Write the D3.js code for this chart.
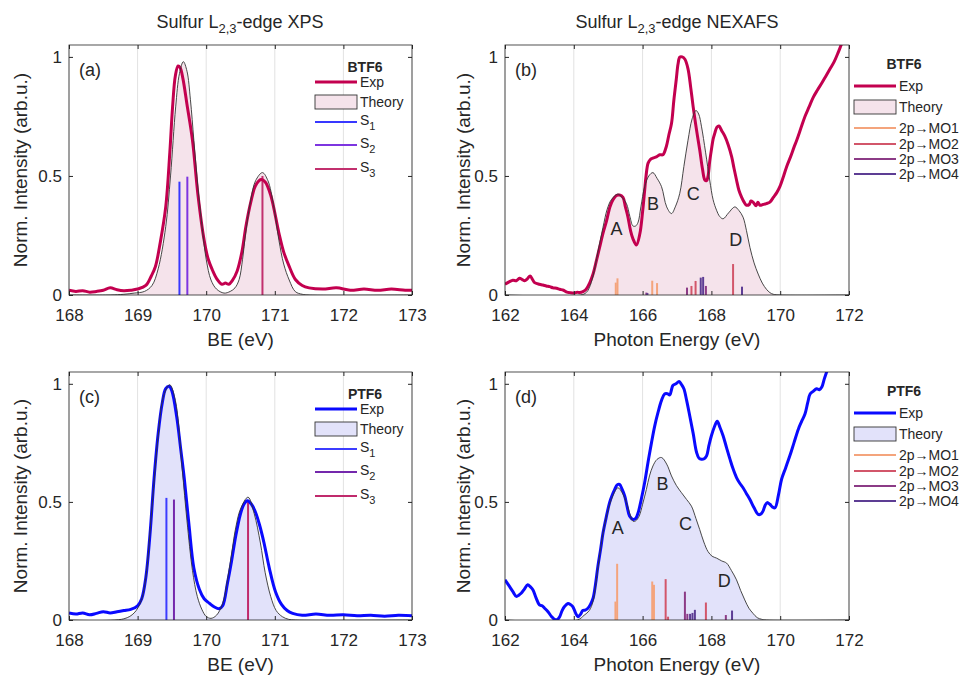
<!DOCTYPE html>
<html>
<head>
<meta charset="utf-8">
<script src="https://cdn.jsdelivr.net/npm/d3@7"></script>
<style>
  body { margin: 0; background: #fff; }
  svg { font-family: 'Liberation Sans', Arial, sans-serif; }
  text { fill: #262626; }
</style>
</head>
<body>
<svg id="container" width="968" height="675"></svg>
<script>
// ---- tick labels ----
const beTicks = [168, 169, 170, 171, 172, 173]
const peTicks = [162, 164, 166, 168, 170, 172]
const yTicks = [0, 0.5, 1]

// ---- (a) BTF6 XPS : [BE, intensity] ----
const btfXpsExp = [[168.0,0.02],[168.1,0.015],[168.2,0.018],[168.3,0.012],[168.4,0.015],[168.5,0.02],[168.6,0.03],[168.7,0.022],[168.8,0.018],[168.9,0.02],[169.0,0.025],[169.12,0.04],[169.2,0.08],[169.26,0.12],[169.33,0.22],[169.41,0.37],[169.47,0.6],[169.51,0.79],[169.55,0.92],[169.59,0.962],[169.62,0.955],[169.66,0.91],[169.72,0.8],[169.8,0.65],[169.88,0.42],[169.97,0.23],[170.03,0.15],[170.09,0.105],[170.15,0.07],[170.23,0.045],[170.28,0.05],[170.33,0.045],[170.38,0.06],[170.45,0.1],[170.52,0.18],[170.58,0.29],[170.65,0.39],[170.72,0.46],[170.8,0.485],[170.86,0.475],[170.94,0.42],[171.06,0.26],[171.13,0.18],[171.21,0.12],[171.3,0.065],[171.4,0.04],[171.5,0.03],[171.7,0.025],[171.9,0.03],[172.1,0.02],[172.3,0.025],[172.5,0.02],[172.7,0.025],[172.9,0.02],[173.0,0.02]]
const btfXpsTheory = [[168.0,0],[168.6,0],[168.8,0.003],[168.95,0.008],[169.1,0.015],[169.21,0.04],[169.3,0.11],[169.41,0.287],[169.48,0.5],[169.555,0.79],[169.61,0.93],[169.667,0.98],[169.72,0.94],[169.77,0.82],[169.82,0.65],[169.88,0.45],[169.94,0.287],[170.0,0.15],[170.07,0.063],[170.15,0.025],[170.26,0.008],[170.35,0.015],[170.42,0.03],[170.48,0.065],[170.53,0.15],[170.575,0.26],[170.65,0.4],[170.72,0.48],[170.82,0.514],[170.9,0.48],[170.98,0.38],[171.06,0.23],[171.13,0.13],[171.21,0.063],[171.3,0.014],[171.4,0.003],[171.5,0],[173.0,0]]
const btfS1 = [[169.61, 0.476]]
const btfS2 = [[169.725, 0.497]]
const btfS3 = [[170.82, 0.5]]

// ---- (c) PTF6 XPS ----
const ptfXpsExp = [[168.0,0.03],[168.1,0.025],[168.2,0.03],[168.3,0.022],[168.4,0.028],[168.5,0.035],[168.6,0.03],[168.7,0.035],[168.8,0.04],[168.9,0.045],[169.0,0.06],[169.06,0.09],[169.12,0.18],[169.18,0.36],[169.24,0.6],[169.3,0.79],[169.36,0.92],[169.41,0.98],[169.46,0.99],[169.5,0.97],[169.57,0.86],[169.63,0.72],[169.68,0.6],[169.75,0.4],[169.82,0.22],[169.9,0.13],[169.97,0.09],[170.05,0.07],[170.12,0.055],[170.19,0.048],[170.24,0.06],[170.31,0.156],[170.37,0.25],[170.43,0.355],[170.5,0.45],[170.55,0.49],[170.6,0.505],[170.66,0.49],[170.72,0.455],[170.78,0.4],[170.84,0.33],[170.92,0.22],[171.01,0.12],[171.1,0.065],[171.18,0.04],[171.26,0.028],[171.4,0.02],[171.6,0.025],[171.8,0.02],[172.0,0.022],[172.2,0.018],[172.4,0.02],[172.6,0.016],[172.8,0.02],[173.0,0.018]]
const ptfXpsTheory = [[168.0,0],[168.8,0.005],[168.95,0.03],[169.05,0.08],[169.12,0.18],[169.21,0.48],[169.3,0.78],[169.38,0.95],[169.468,0.996],[169.55,0.93],[169.65,0.64],[169.72,0.42],[169.8,0.21],[169.87,0.1],[169.94,0.043],[170.0,0.015],[170.07,0.007],[170.15,0.02],[170.24,0.07],[170.31,0.17],[170.38,0.3],[170.43,0.39],[170.5,0.47],[170.61,0.52],[170.7,0.45],[170.79,0.326],[170.86,0.2],[170.94,0.1],[171.02,0.04],[171.11,0.014],[171.2,0.003],[171.3,0],[173.0,0]]
const ptfS1 = [[169.42, 0.517]]
const ptfS2 = [[169.53, 0.51]]
const ptfS3 = [[170.61, 0.5]]

// ---- (b) BTF6 NEXAFS : [photon energy, intensity] ----
const btfNexExp = [[162.0,0.045],[162.12,0.055],[162.23,0.062],[162.33,0.06],[162.42,0.07],[162.5,0.065],[162.57,0.06],[162.65,0.068],[162.73,0.08],[162.8,0.065],[162.86,0.052],[163.0,0.045],[163.1,0.042],[163.2,0.038],[163.3,0.035],[163.4,0.03],[163.5,0.028],[163.59,0.024],[163.7,0.02],[163.8,0.012],[163.88,0.01],[164.0,0.008],[164.1,0.012],[164.17,0.01],[164.28,0.015],[164.36,0.024],[164.46,0.05],[164.56,0.088],[164.65,0.14],[164.75,0.2],[164.85,0.26],[164.95,0.31],[165.05,0.37],[165.14,0.4],[165.24,0.418],[165.33,0.42],[165.43,0.41],[165.5,0.37],[165.57,0.33],[165.65,0.27],[165.72,0.236],[165.82,0.21],[165.92,0.257],[166.0,0.35],[166.06,0.44],[166.1,0.5],[166.16,0.554],[166.23,0.57],[166.3,0.575],[166.4,0.58],[166.5,0.589],[166.59,0.589],[166.69,0.624],[166.76,0.67],[166.84,0.72],[166.91,0.82],[166.98,0.907],[167.03,0.97],[167.08,0.999],[167.15,1.0],[167.23,0.99],[167.32,0.95],[167.4,0.87],[167.47,0.79],[167.56,0.7],[167.66,0.61],[167.74,0.53],[167.81,0.483],[167.86,0.48],[167.9,0.497],[167.95,0.56],[168.0,0.61],[168.05,0.655],[168.1,0.68],[168.16,0.705],[168.22,0.71],[168.3,0.69],[168.39,0.667],[168.49,0.63],[168.59,0.58],[168.66,0.53],[168.73,0.483],[168.8,0.44],[168.88,0.41],[168.95,0.39],[169.02,0.377],[169.1,0.38],[169.15,0.395],[169.21,0.39],[169.3,0.375],[169.35,0.39],[169.41,0.377],[169.5,0.38],[169.6,0.384],[169.7,0.39],[169.8,0.41],[169.9,0.43],[169.99,0.455],[170.1,0.5],[170.19,0.54],[170.3,0.58],[170.4,0.62],[170.48,0.65],[170.6,0.7],[170.72,0.75],[170.84,0.79],[170.96,0.83],[171.08,0.86],[171.21,0.89],[171.33,0.92],[171.45,0.95],[171.57,0.98],[171.69,1.02],[171.8,1.06],[171.9,1.09]]
const btfNexTheory = [[162.0,0],[164.2,0],[164.36,0.01],[164.45,0.03],[164.56,0.08],[164.7,0.18],[164.85,0.285],[164.97,0.36],[165.09,0.4],[165.28,0.424],[165.4,0.41],[165.53,0.384],[165.63,0.33],[165.72,0.29],[165.8,0.29],[165.87,0.306],[165.95,0.37],[166.06,0.455],[166.18,0.5],[166.3,0.514],[166.42,0.49],[166.55,0.455],[166.7,0.37],[166.84,0.342],[166.95,0.37],[167.08,0.427],[167.2,0.54],[167.32,0.65],[167.44,0.74],[167.55,0.775],[167.63,0.76],[167.71,0.709],[167.83,0.6],[167.95,0.483],[168.05,0.4],[168.15,0.356],[168.24,0.33],[168.34,0.32],[168.5,0.345],[168.68,0.37],[168.8,0.355],[168.92,0.327],[169.02,0.27],[169.12,0.2],[169.24,0.135],[169.36,0.088],[169.48,0.05],[169.6,0.024],[169.7,0.01],[169.8,0.003],[170.0,0],[172.0,0]]
const btfMO1 = [[165.22,0.052],[165.27,0.07],[166.28,0.06],[166.42,0.05]]
const btfMO2 = [[167.42,0.038],[167.54,0.059],[168.63,0.13]]
const btfMO3 = [[166.11,0.01],[167.29,0.031],[167.84,0.038]]
const btfMO4 = [[166.14,0.008],[167.69,0.073],[167.76,0.076],[168.89,0.035]]
const btfPeaks = [['A',165.24,0.28],['B',166.3,0.384],['C',167.47,0.424],['D',168.71,0.232]]

// ---- (d) PTF6 NEXAFS ----
const ptfNexExp = [[162.0,0.17],[162.13,0.142],[162.23,0.12],[162.33,0.1],[162.4,0.105],[162.47,0.113],[162.56,0.13],[162.66,0.149],[162.74,0.14],[162.81,0.128],[162.9,0.095],[163.0,0.064],[163.08,0.06],[163.15,0.05],[163.25,0.035],[163.35,0.015],[163.44,0.003],[163.52,0.002],[163.59,0.014],[163.66,0.04],[163.73,0.057],[163.83,0.07],[163.9,0.066],[163.97,0.057],[164.05,0.03],[164.12,0.014],[164.2,0.025],[164.26,0.04],[164.33,0.042],[164.41,0.05],[164.48,0.065],[164.56,0.092],[164.63,0.15],[164.7,0.227],[164.78,0.3],[164.85,0.369],[164.95,0.44],[165.04,0.497],[165.12,0.53],[165.19,0.553],[165.26,0.572],[165.33,0.574],[165.4,0.555],[165.48,0.525],[165.55,0.48],[165.62,0.44],[165.72,0.426],[165.8,0.43],[165.87,0.454],[165.96,0.51],[166.06,0.582],[166.16,0.67],[166.26,0.752],[166.35,0.82],[166.45,0.88],[166.55,0.93],[166.64,0.957],[166.72,0.958],[166.79,0.953],[166.84,0.975],[166.88,0.993],[166.97,1.0],[167.06,1.01],[167.13,0.997],[167.2,0.979],[167.28,0.93],[167.37,0.865],[167.47,0.79],[167.57,0.709],[167.64,0.685],[167.71,0.681],[167.79,0.683],[167.86,0.695],[167.93,0.74],[168.0,0.78],[168.08,0.815],[168.17,0.841],[168.25,0.815],[168.34,0.78],[168.44,0.73],[168.54,0.681],[168.63,0.64],[168.73,0.603],[168.82,0.58],[168.92,0.56],[169.02,0.535],[169.12,0.51],[169.24,0.475],[169.36,0.447],[169.43,0.448],[169.5,0.461],[169.56,0.485],[169.62,0.497],[169.7,0.49],[169.78,0.478],[169.85,0.475],[169.95,0.53],[170.04,0.596],[170.16,0.645],[170.28,0.695],[170.4,0.75],[170.53,0.809],[170.62,0.84],[170.72,0.872],[170.8,0.92],[170.87,0.957],[170.96,0.968],[171.06,0.979],[171.14,0.975],[171.21,0.986],[171.28,1.02],[171.35,1.05],[171.45,1.09]]
const ptfNexTheory = [[162.0,0],[164.1,0],[164.3,0.02],[164.45,0.04],[164.56,0.08],[164.7,0.22],[164.85,0.369],[164.97,0.45],[165.09,0.51],[165.28,0.56],[165.4,0.54],[165.53,0.497],[165.63,0.45],[165.72,0.418],[165.8,0.42],[165.9,0.44],[166.0,0.49],[166.11,0.553],[166.2,0.61],[166.3,0.652],[166.42,0.68],[166.55,0.688],[166.7,0.66],[166.84,0.61],[166.98,0.57],[167.13,0.539],[167.28,0.51],[167.42,0.482],[167.55,0.43],[167.66,0.383],[167.78,0.33],[167.9,0.29],[168.02,0.27],[168.15,0.262],[168.3,0.25],[168.44,0.241],[168.58,0.21],[168.73,0.17],[168.85,0.125],[168.97,0.085],[169.09,0.05],[169.21,0.028],[169.33,0.01],[169.46,0.003],[169.6,0],[172.0,0]]
const ptfMO1 = [[165.21,0.078],[165.26,0.238],[166.28,0.163],[166.33,0.149]]
const ptfMO2 = [[166.67,0.173],[166.74,0.014],[167.84,0.074]]
const ptfMO3 = [[167.23,0.12],[167.3,0.026],[168.42,0.021]]
const ptfMO4 = [[167.38,0.026],[167.45,0.03],[167.52,0.043],[168.6,0.04]]
const ptfPeaks = [['A',165.28,0.39],['B',166.58,0.579],['C',167.25,0.409],['D',168.37,0.167]]

// colours
const btfColor = '#c3004f'
const ptfColor = '#0a0aff'
const moColors = ['#f4a47c', '#d2566a', '#8c3b86', '#5d3d94']

const svg = d3.select('#container')

// legend row offsets (from panel top)
const xpsRows = { title: 22, rows: [37, 57, 77, 100, 124] }
const nexRows = { title: 19, rows: [41, 62, 83, 99, 114, 129] }

const panels = [
  {
    id: 'a', x0: 69, x1: 412, y0: 45, y1: 295, domain: [168, 173], ticks: beTicks,
    exp: btfXpsExp, theory: btfXpsTheory, color: btfColor, fill: '#f5e3eb',
    sticks: [[btfS1, '#3838ff', 'S', '1'], [btfS2, '#7d35e0', 'S', '2'], [btfS3, '#c2306e', 'S', '3']],
    tag: '(a)', xLabel: 'BE (eV)', name: 'BTF6', legendX: 246, rowsCfg: xpsRows, peaks: []
  },
  {
    id: 'b', x0: 505, x1: 849, y0: 45, y1: 295, domain: [162, 172], ticks: peTicks,
    exp: btfNexExp, theory: btfNexTheory, color: btfColor, fill: '#f5e3eb',
    sticks: [[btfMO1, moColors[0], '2p\u2192MO1'], [btfMO2, moColors[1], '2p\u2192MO2'],
             [btfMO3, moColors[2], '2p\u2192MO3'], [btfMO4, moColors[3], '2p\u2192MO4']],
    tag: '(b)', xLabel: 'Photon Energy (eV)', name: 'BTF6', legendX: 349, rowsCfg: nexRows, peaks: btfPeaks
  },
  {
    id: 'c', x0: 69, x1: 412, y0: 372, y1: 620, domain: [168, 173], ticks: beTicks,
    exp: ptfXpsExp, theory: ptfXpsTheory, color: ptfColor, fill: '#e2e2fa',
    sticks: [[ptfS1, '#3c3cff', 'S', '1'], [ptfS2, '#7428ac', 'S', '2'], [ptfS3, '#c02a6c', 'S', '3']],
    tag: '(c)', xLabel: 'BE (eV)', name: 'PTF6', legendX: 246, rowsCfg: xpsRows, peaks: []
  },
  {
    id: 'd', x0: 505, x1: 849, y0: 372, y1: 620, domain: [162, 172], ticks: peTicks,
    exp: ptfNexExp, theory: ptfNexTheory, color: ptfColor, fill: '#e2e2fa',
    sticks: [[ptfMO1, moColors[0], '2p\u2192MO1'], [ptfMO2, moColors[1], '2p\u2192MO2'],
             [ptfMO3, moColors[2], '2p\u2192MO3'], [ptfMO4, moColors[3], '2p\u2192MO4']],
    tag: '(d)', xLabel: 'Photon Energy (eV)', name: 'PTF6', legendX: 349, rowsCfg: nexRows, peaks: ptfPeaks
  }
]

panels.forEach(drawPanel)

// column titles
title(240, 'Sulfur L', '2,3', '-edge XPS')
title(677, 'Sulfur L', '2,3', '-edge NEXAFS')

function title(cx, main, sub, rest) {
  const t = svg.append('text')
    .attr('x', cx).attr('y', 28)
    .attr('text-anchor', 'middle')
    .attr('font-size', 18)
  t.append('tspan').text(main)
  t.append('tspan').attr('dy', 5).attr('font-size', 13).text(sub)
  t.append('tspan').attr('dy', -5).text(rest)
}

function drawPanel(p) {
  const w = p.x1 - p.x0
  const h = p.y1 - p.y0
  const g = svg.append('g').attr('transform', `translate(${p.x0},${p.y0})`)

  const x = d3.scaleLinear().domain(p.domain).range([0, w])
  const y = d3.scaleLinear().domain([0, 1.05]).range([h, 0])

  g.append('clipPath').attr('id', 'clip-' + p.id)
    .append('rect').attr('width', w).attr('height', h)

  // vertical grid
  g.append('g').selectAll('line').data(p.ticks).join('line')
    .attr('x1', d => x(d)).attr('x2', d => x(d))
    .attr('y1', 0).attr('y2', h)
    .attr('stroke', '#e2e2e2')

  const body = g.append('g').attr('clip-path', `url(#clip-${p.id})`)

  // theory patch
  body.append('path').datum(p.theory)
    .attr('d', d3.area().x(d => x(d[0])).y0(y(0)).y1(d => y(d[1])).curve(d3.curveCatmullRom))
    .attr('fill', p.fill)

  // transition sticks
  p.sticks.forEach(s => {
    body.append('g').selectAll('line').data(s[0]).join('line')
      .attr('x1', d => x(d[0])).attr('x2', d => x(d[0]))
      .attr('y1', y(0)).attr('y2', d => y(d[1]))
      .attr('stroke', s[1])
      .attr('stroke-width', 2)
  })

  // experiment
  body.append('path').datum(p.exp)
    .attr('d', d3.line().x(d => x(d[0])).y(d => y(d[1])).curve(d3.curveCatmullRom))
    .attr('fill', 'none')
    .attr('stroke', p.color)
    .attr('stroke-width', 3)
    .attr('stroke-linejoin', 'round')

  // theory outline
  body.append('path').datum(p.theory)
    .attr('d', d3.line().x(d => x(d[0])).y(d => y(d[1])).curve(d3.curveCatmullRom))
    .attr('fill', 'none')
    .attr('stroke', '#333')
    .attr('stroke-width', 0.9)

  // peak letters
  g.append('g').selectAll('text').data(p.peaks).join('text')
    .attr('x', d => x(d[1])).attr('y', d => y(d[2]))
    .attr('dy', '0.35em')
    .attr('text-anchor', 'middle')
    .attr('font-size', 18)
    .text(d => d[0])

  // axes, ticks pointing inward
  const styleAxis = a => {
    a.select('.domain').remove()
    a.selectAll('.tick line').attr('stroke', '#262626')
    a.selectAll('text').attr('font-size', 17).attr('font-family', null).attr('fill', '#262626')
  }
  g.append('g').attr('transform', `translate(0,${h})`)
    .call(d3.axisBottom(x).tickValues(p.ticks).tickSizeInner(-4).tickSizeOuter(0).tickPadding(14).tickFormat(d3.format('d')))
    .call(styleAxis)
  g.append('g')
    .call(d3.axisTop(x).tickValues(p.ticks).tickSizeInner(-4).tickSizeOuter(0).tickFormat(''))
    .call(styleAxis)
  g.append('g')
    .call(d3.axisLeft(y).tickValues(yTicks).tickSizeInner(-4).tickSizeOuter(0).tickPadding(7).tickFormat(d => d))
    .call(styleAxis)
  g.append('g').attr('transform', `translate(${w},0)`)
    .call(d3.axisRight(y).tickValues(yTicks).tickSizeInner(-4).tickSizeOuter(0).tickFormat(''))
    .call(styleAxis)

  g.append('rect')
    .attr('width', w).attr('height', h)
    .attr('fill', 'none')
    .attr('stroke', '#262626')
    .attr('stroke-width', 0.8)

  // panel tag
  g.append('text').attr('x', 10).attr('y', 31).attr('font-size', 18).text(p.tag)

  // axis labels
  g.append('text')
    .attr('x', w / 2).attr('y', h + 51)
    .attr('text-anchor', 'middle')
    .attr('font-size', 19)
    .text(p.xLabel)
  g.append('text')
    .attr('transform', `translate(${p.id === 'a' || p.id === 'c' ? -49 : -42},${h / 2}) rotate(-90)`)
    .attr('dy', '0.35em')
    .attr('text-anchor', 'middle')
    .attr('font-size', 19)
    .text('Norm. Intensity (arb.u.)')

  drawLegend(g, p)
}

function drawLegend(g, p) {
  const lx = p.legendX
  const rows = p.rowsCfg.rows
  const lg = g.append('g')
  lg.append('text')
    .attr('x', lx + 50).attr('y', p.rowsCfg.title)
    .attr('dy', '0.35em')
    .attr('text-anchor', 'middle')
    .attr('font-size', 14)
    .attr('font-weight', 'bold')
    .text(p.name)

  const label = (yy, txt, sub) => {
    const t = lg.append('text').attr('x', lx + 45).attr('y', yy).attr('dy', '0.35em').attr('font-size', 14)
    t.append('tspan').text(txt)
    if (sub) t.append('tspan').attr('dy', 5).attr('font-size', 11).text(sub)
  }

  // Exp
  lg.append('line').attr('x1', lx).attr('x2', lx + 42).attr('y1', rows[0]).attr('y2', rows[0])
    .attr('stroke', p.color).attr('stroke-width', 3)
  label(rows[0], 'Exp')

  // Theory
  lg.append('rect').attr('x', lx).attr('y', rows[1] - 7).attr('width', 42).attr('height', 14)
    .attr('fill', p.fill).attr('stroke', '#333').attr('stroke-width', 0.9)
  label(rows[1], 'Theory')

  p.sticks.forEach((s, i) => {
    const yy = rows[i + 2]
    lg.append('line').attr('x1', lx).attr('x2', lx + 42).attr('y1', yy).attr('y2', yy)
      .attr('stroke', s[1]).attr('stroke-width', 2)
    label(yy - (s[3] ? 2 : 0), s[2], s[3])
  })
}
</script>
</body>
</html>
